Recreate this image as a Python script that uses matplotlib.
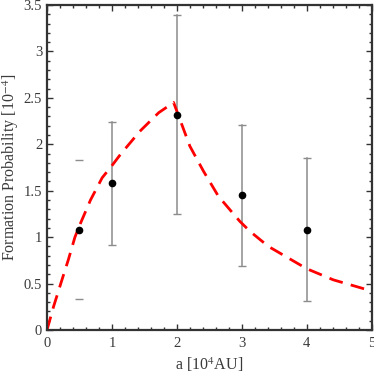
import matplotlib
matplotlib.use("Agg")
import matplotlib.pyplot as plt
from matplotlib.ticker import MultipleLocator, FuncFormatter

# data points
a_vals = [0.5, 1, 2, 3, 4]
prob = [1.08, 1.58, 2.32, 1.45, 1.08]
err_low = [0.33, 0.92, 1.25, 0.69, 0.31]
err_high = [1.83, 2.24, 3.39, 2.21, 1.85]

# model curve
curve_x = [0, 0.1, 0.23, 0.33, 0.43, 0.51, 0.67, 0.85, 1.0, 1.13, 1.43, 1.72, 1.95,
           2.2, 2.41, 2.64, 2.97, 3.13, 3.41, 4.0, 4.41, 5.0]
curve_y = [0, 0.25, 0.54, 0.76, 1.0, 1.14, 1.40, 1.64, 1.77, 1.89, 2.14, 2.34, 2.45,
           1.98, 1.71, 1.44, 1.17, 1.06, 0.90, 0.66, 0.54, 0.42]

plt.rcParams['font.family'] = ['Liberation Serif', 'DejaVu Serif']
plt.rcParams['mathtext.fontset'] = 'stix'

fig = plt.figure(figsize=(3.74, 3.75), dpi=100)
ax = fig.add_axes([0.1257, 0.12, 0.868, 0.8667])

errcol = '#8c8c8c'
# first point: caps only
ax.plot([a_vals[0]] * 2, [err_low[0], err_high[0]], linestyle='none', marker='_',
        color=errcol, markersize=6, markeredgewidth=1)
for x, lo, hi in zip(a_vals[1:], err_low[1:], err_high[1:]):
    ax.plot([x, x], [lo, hi], color=errcol, lw=1.1)
    ax.plot([x, x], [lo, hi], linestyle='none', marker='_', color=errcol,
            markersize=6, markeredgewidth=1)

ax.plot(curve_x, curve_y, color='#ff0000', lw=2, linestyle=(0, (5, 3)))
ax.plot(a_vals, prob, 'o', color='black', markersize=4.5)

ax.set_xlim(0, 5)
ax.set_ylim(0, 3.5)
ax.xaxis.set_major_locator(MultipleLocator(1))
ax.xaxis.set_minor_locator(MultipleLocator(0.2))
ax.yaxis.set_major_locator(MultipleLocator(0.5))
ax.yaxis.set_minor_locator(MultipleLocator(0.1))
ax.tick_params(which='both', direction='in', top=True, right=True, colors='#333333',
               labelsize=10.5, labelcolor='#3a3a3a')
ax.tick_params(which='major', length=4, width=1)
ax.tick_params(which='minor', length=2.5, width=1)
ax.tick_params(axis='x', pad=5)
for s in ax.spines.values():
    s.set_linewidth(1.6)
    s.set_color('#333333')

def fmt(v, pos):
    return ('%g' % v)
ax.xaxis.set_major_formatter(FuncFormatter(fmt))
ax.yaxis.set_major_formatter(FuncFormatter(fmt))

ax.set_xlabel(r'a [10$^{4}$AU]', fontsize=11.5, color='#3a3a3a', labelpad=4)
ax.set_ylabel(r'Formation Probability [10$^{-4}$]', fontsize=11.5, color='#3a3a3a', labelpad=2)

fig.savefig('out.png', dpi=100)
